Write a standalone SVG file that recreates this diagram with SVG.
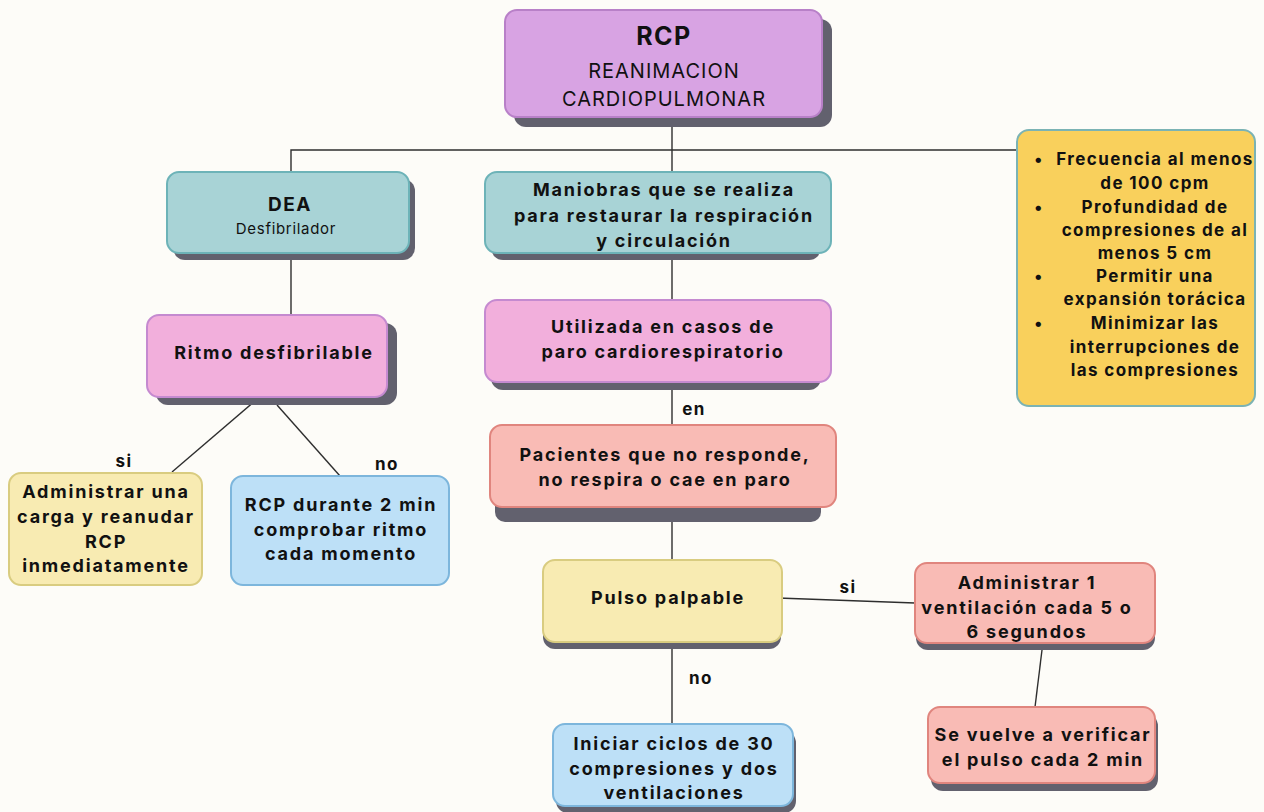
<svg xmlns="http://www.w3.org/2000/svg" width="1264" height="812" viewBox="0 0 1264 812">
<style>
.bg{fill:#fdfcf8}
.sh{fill:#62616e}
.n{stroke-width:2}
.purple{fill:#d8a3e3;stroke:#b880c8}
.teal{fill:#a8d3d6;stroke:#6db3b8}
.pink{fill:#f2afdc;stroke:#c58ad0}
.salmon{fill:#f9bbb5;stroke:#e0857e}
.cream{fill:#f8ebb2;stroke:#d9cc80}
.blue{fill:#bde0f7;stroke:#7db6dc}
.gold{fill:#f9d05c;stroke:#7bb3b4}
text{font-family:Inter,"Noto Sans","Liberation Sans",sans-serif;fill:#111;text-anchor:middle}
.b{font-weight:700;font-size:18px;letter-spacing:1.8px}
.r{font-weight:400}
.lbl{font-weight:700;font-size:17px;letter-spacing:1.5px}
.c line,.c polyline{stroke:#2e2e2e;stroke-width:1.4;fill:none}
</style>
<rect class="bg" x="0" y="0" width="1264" height="812"/>
<g class="c" id="connectors">
<polyline points="291,172 291,150 1017,150"/>
<line x1="672" y1="117" x2="672" y2="172"/>
<line x1="291" y1="253" x2="291" y2="315"/>
<line x1="672" y1="253" x2="672" y2="300"/>
<line x1="672" y1="382" x2="672" y2="425"/>
<line x1="672" y1="507" x2="672" y2="560"/>
<line x1="672" y1="642" x2="672" y2="724"/>
<line x1="256" y1="400" x2="172" y2="472"/>
<line x1="277" y1="405" x2="340" y2="476"/>
<line x1="778" y1="598" x2="915" y2="603"/>
<line x1="1042" y1="650" x2="1035" y2="707"/>
<text class="lbl" x="694" y="415">en</text>
<text class="lbl" x="124" y="467">si</text>
<text class="lbl" x="387" y="470">no</text>
<text class="lbl" x="848" y="593">si</text>
<text class="lbl" x="701" y="684">no</text>
</g>
<g id="rcp">
<rect class="sh" x="514" y="19" width="318" height="108" rx="12"/>
<rect class="n purple" x="505" y="10" width="317" height="107" rx="12"/>
<text x="664" y="45" style="font-weight:700;font-size:25px;letter-spacing:1.5px">RCP</text>
<text class="r" x="664" y="78" style="font-size:20px;letter-spacing:1px">REANIMACION</text>
<text class="r" x="664" y="106" style="font-size:20px;letter-spacing:1px">CARDIOPULMONAR</text>
</g>
<g id="dea">
<rect class="sh" x="173" y="179" width="242" height="81" rx="12"/>
<rect class="n teal" x="167" y="172" width="242" height="81" rx="12"/>
<text x="290" y="211" style="font-weight:700;font-size:19px;letter-spacing:1.5px">DEA</text>
<text class="r" x="286" y="234" style="font-size:15px;letter-spacing:0.7px">Desfibrilador</text>
</g>
<g id="maniobras">
<rect class="sh" x="491" y="180" width="330" height="80" rx="12"/>
<rect class="n teal" x="485" y="172" width="346" height="81" rx="12"/>
<text class="b" x="664" y="196">Maniobras que se realiza</text>
<text class="b" x="664" y="222">para restaurar la respiración</text>
<text class="b" x="664" y="247">y circulación</text>
</g>
<g id="utilizada">
<rect class="sh" x="491" y="308" width="330" height="82" rx="12"/>
<rect class="n pink" x="485" y="300" width="346" height="82" rx="12"/>
<text class="b" x="663" y="333">Utilizada en casos de</text>
<text class="b" x="663" y="358">paro cardiorespiratorio</text>
</g>
<g id="criterios">
<rect class="n gold" x="1017" y="130" width="238" height="276" rx="12"/>
<g style="font-weight:700;font-size:17px;letter-spacing:1.4px">
<text x="1039" y="165">•</text>
<text x="1155" y="165">Frecuencia al menos</text>
<text x="1155" y="189">de 100 cpm</text>
<text x="1039" y="213">•</text>
<text x="1155" y="213">Profundidad de</text>
<text x="1155" y="236">compresiones de al</text>
<text x="1155" y="259">menos 5 cm</text>
<text x="1039" y="282">•</text>
<text x="1155" y="282">Permitir una</text>
<text x="1155" y="305">expansión torácica</text>
<text x="1039" y="329">•</text>
<text x="1155" y="329">Minimizar las</text>
<text x="1155" y="353">interrupciones de</text>
<text x="1155" y="376">las compresiones</text>
</g>
</g>
<g id="ritmo">
<rect class="sh" x="156" y="323" width="241" height="82" rx="12"/>
<rect class="n pink" x="147" y="315" width="240" height="82" rx="12"/>
<text class="b" x="274" y="359">Ritmo desfibrilable</text>
</g>
<g id="carga">
<rect class="n cream" x="9" y="473" width="193" height="112" rx="12"/>
<text class="b" x="106" y="498">Administrar una</text>
<text class="b" x="106" y="523">carga y reanudar</text>
<text class="b" x="106" y="548">RCP</text>
<text class="b" x="106" y="572">inmediatamente</text>
</g>
<g id="durante">
<rect class="n blue" x="231" y="476" width="218" height="109" rx="12"/>
<text class="b" x="341" y="511">RCP durante 2 min</text>
<text class="b" x="341" y="536">comprobar ritmo</text>
<text class="b" x="341" y="560">cada momento</text>
</g>
<g id="pacientes">
<rect class="sh" x="495" y="440" width="326" height="82" rx="10"/>
<rect class="n salmon" x="490" y="425" width="346" height="82" rx="12"/>
<text class="b" x="665" y="461">Pacientes que no responde,</text>
<text class="b" x="665" y="486">no respira o cae en paro</text>
</g>
<g id="pulso">
<rect class="sh" x="543" y="567" width="238" height="82" rx="12"/>
<rect class="n cream" x="543" y="560" width="239" height="82" rx="12"/>
<text class="b" x="668" y="604">Pulso palpable</text>
</g>
<g id="ventilacion">
<rect class="sh" x="916" y="570" width="239" height="80" rx="12"/>
<rect class="n salmon" x="915" y="563" width="240" height="80" rx="12"/>
<text class="b" x="1027" y="589">Administrar 1</text>
<text class="b" x="1027" y="614">ventilación cada 5 o</text>
<text class="b" x="1027" y="638">6 segundos</text>
</g>
<g id="verificar">
<rect class="sh" x="931" y="714" width="227" height="77" rx="12"/>
<rect class="n salmon" x="928" y="707" width="227" height="76" rx="12"/>
<text class="b" x="1043" y="741">Se vuelve a verificar</text>
<text class="b" x="1043" y="766">el pulso cada 2 min</text>
</g>
<g id="iniciar">
<rect class="sh" x="556" y="731" width="240" height="82" rx="12"/>
<rect class="n blue" x="553" y="724" width="240" height="82" rx="12"/>
<text class="b" x="674" y="750">Iniciar ciclos de 30</text>
<text class="b" x="674" y="775">compresiones y dos</text>
<text class="b" x="674" y="799">ventilaciones</text>
</g>
</svg>
